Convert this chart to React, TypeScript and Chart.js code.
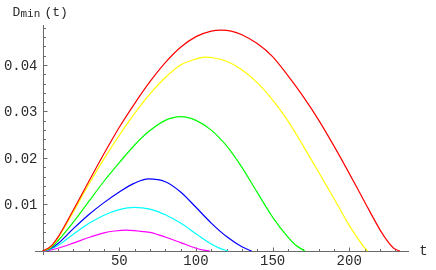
import React, { useEffect, useRef } from "react";
import { Chart, registerables } from "chart.js";
Chart.register(...registerables);

// ---- data (t, D_min) ----
const redT = [0, 5, 10, 20, 30, 40, 50, 60, 70, 80, 90, 100, 110, 116.5, 123, 130, 140, 150, 160, 170, 180, 190, 200, 210, 220, 225, 229, 233];
const redV = [0, 0.0009, 0.003, 0.0088, 0.0149, 0.0209, 0.0266, 0.0317, 0.0364, 0.0405, 0.0438, 0.0461, 0.0473, 0.0475, 0.0473, 0.0465, 0.0446, 0.0418, 0.0377, 0.0332, 0.0282, 0.0226, 0.0167, 0.0106, 0.0046, 0.0021, 0.0006, 0];

const yellowT = [0, 5, 10, 20, 30, 40, 50, 60, 70, 80, 90, 100, 106, 112, 120, 130, 140, 150, 160, 170, 180, 190, 200, 205, 209, 212];
const yellowV = [0, 0.0008, 0.0028, 0.0084, 0.0143, 0.0198, 0.0249, 0.0296, 0.0338, 0.0373, 0.04, 0.0413, 0.0417, 0.0415, 0.0408, 0.039, 0.0362, 0.0325, 0.028, 0.0226, 0.017, 0.0113, 0.0055, 0.003, 0.0011, 0];

const greenT = [0, 5, 10, 20, 30, 40, 50, 60, 70, 80, 90, 100, 110, 120, 130, 140, 150, 160, 165, 171];
const greenV = [0, 0.0006, 0.0022, 0.0062, 0.0106, 0.015, 0.019, 0.0228, 0.0259, 0.0281, 0.0289, 0.0281, 0.026, 0.0226, 0.018, 0.0126, 0.0073, 0.003, 0.0013, 0];

const blueT = [0, 5, 10, 20, 30, 40, 50, 60, 69, 80, 90, 100, 110, 120, 130, 136.3];
const blueV = [0, 0.0005, 0.0016, 0.0048, 0.0078, 0.0104, 0.0127, 0.0146, 0.0155, 0.0149, 0.0127, 0.0094, 0.006, 0.0031, 0.0009, 0];

const cyanT = [0, 5, 10, 20, 30, 40, 50, 60, 70, 80, 90, 100, 110, 116, 121];
const cyanV = [0, 0.0004, 0.0012, 0.0036, 0.0059, 0.0077, 0.0089, 0.0094, 0.009, 0.0078, 0.006, 0.0037, 0.0015, 0.0005, 0];

const magentaT = [0, 5, 10, 20, 30, 40, 47, 54.5, 62, 70, 80, 90, 100, 105, 109];
const magentaV = [0, 0.0002, 0.0006, 0.0017, 0.0029, 0.0039, 0.0043, 0.0045, 0.0043, 0.004, 0.003, 0.0018, 0.0006, 0.0002, 0];

// ---- ticks ----
const xMajorTicks = [50, 100, 150, 200];
const xTickLabels = ["50", "100", "150", "200"];
const xMinorTicks = [10, 20, 30, 40, 60, 70, 80, 90, 110, 120, 130, 140, 160, 170, 180, 190, 210, 220, 230];
const yMajorTicks = [0.01, 0.02, 0.03, 0.04];
const yTickLabels = ["0.01", "0.02", "0.03", "0.04"];
const yMinorTicks = [0.002, 0.004, 0.006, 0.008, 0.012, 0.014, 0.016, 0.018, 0.022, 0.024, 0.026, 0.028, 0.032, 0.034, 0.036, 0.038, 0.042, 0.044, 0.046, 0.048];

const X_MIN = -5;
const X_MAX = 239;
const Y_MIN = -0.00086;
const Y_MAX = 0.0486;

const toPts = (t: number[], v: number[]) => t.map((tt, i) => ({ x: tt, y: v[i] }));

const FONT = '"Liberation Mono", "DejaVu Sans Mono", monospace';

const axesPlugin = {
  id: "mmaAxes",
  beforeDatasetsDraw(chart: any) {
    const { ctx, chartArea } = chart;
    const xs = chart.scales.x;
    const ys = chart.scales.y;
    const x0 = Math.round(xs.getPixelForValue(0)) + 0.5;
    const y0 = Math.round(ys.getPixelForValue(0)) + 0.5;
    ctx.save();
    ctx.strokeStyle = "#6a6a6a";
    ctx.lineWidth = 1;
    ctx.beginPath();
    ctx.moveTo(chartArea.left, y0);
    ctx.lineTo(chartArea.right, y0);
    ctx.moveTo(x0, chartArea.top);
    ctx.lineTo(x0, chartArea.bottom);
    xMajorTicks.forEach((t) => {
      const px = Math.round(xs.getPixelForValue(t)) + 0.5;
      ctx.moveTo(px, y0);
      ctx.lineTo(px, y0 - 4);
    });
    xMinorTicks.forEach((t) => {
      const px = Math.round(xs.getPixelForValue(t)) + 0.5;
      ctx.moveTo(px, y0);
      ctx.lineTo(px, y0 - 2.5);
    });
    yMajorTicks.forEach((v) => {
      const py = Math.round(ys.getPixelForValue(v)) + 0.5;
      ctx.moveTo(x0, py);
      ctx.lineTo(x0 + 4, py);
    });
    yMinorTicks.forEach((v) => {
      const py = Math.round(ys.getPixelForValue(v)) + 0.5;
      ctx.moveTo(x0, py);
      ctx.lineTo(x0 + 2.5, py);
    });
    ctx.stroke();

    ctx.fillStyle = "#2a2a2a";
    ctx.font = "14px " + FONT;
    ctx.textAlign = "center";
    ctx.textBaseline = "middle";
    xMajorTicks.forEach((t, i) => {
      ctx.fillText(xTickLabels[i], xs.getPixelForValue(t), 261.5);
    });
    ctx.textAlign = "right";
    yMajorTicks.forEach((v, i) => {
      ctx.fillText(yTickLabels[i], x0 - 6, ys.getPixelForValue(v) + 1);
    });
    ctx.textAlign = "center";
    ctx.fillText("t", 423.5, y0 - 0.5);
    ctx.textAlign = "left";
    ctx.textBaseline = "alphabetic";
    ctx.font = "13px " + FONT;
    ctx.fillText("D", 12.5, 15.5);
    ctx.font = "11px " + FONT;
    ctx.fillText("min", 20.5, 17);
    ctx.font = "13px " + FONT;
    ctx.fillText("(t)", 44.5, 15.5);
    ctx.restore();
  },
};

export default function App() {
  const ref = useRef<HTMLCanvasElement | null>(null);
  useEffect(() => {
    document.body.style.margin = "0";
    if (!ref.current) return;
    const mk = (label: string, t: number[], v: number[], color: string) => ({
      label,
      data: toPts(t, v),
      borderColor: color,
      borderWidth: 1.2,
      pointRadius: 0,
      fill: false,
      cubicInterpolationMode: "monotone" as const,
    });
    const chart = new Chart(ref.current, {
      type: "line",
      data: {
        datasets: [
          mk("red", redT, redV, "#ff0000"),
          mk("yellow", yellowT, yellowV, "#ffff00"),
          mk("green", greenT, greenV, "#00ff00"),
          mk("blue", blueT, blueV, "#0000ff"),
          mk("cyan", cyanT, cyanV, "#00ffff"),
          mk("magenta", magentaT, magentaV, "#ff00ff"),
        ],
      },
      options: {
        animation: false,
        responsive: false,
        maintainAspectRatio: false,
        layout: { padding: { left: 35, right: 27, top: 25, bottom: 15 } },
        plugins: { legend: { display: false }, tooltip: { enabled: false } },
        scales: {
          x: { type: "linear", min: X_MIN, max: X_MAX, display: false },
          y: { type: "linear", min: Y_MIN, max: Y_MAX, display: false },
        },
      },
      plugins: [axesPlugin],
    });
    return () => chart.destroy();
  }, []);
  return (
    <div style={{ position: "absolute", left: 0, top: 0, width: 436, height: 270, background: "#fff" }}>
      <canvas ref={ref} width={436} height={270} />
    </div>
  );
}
